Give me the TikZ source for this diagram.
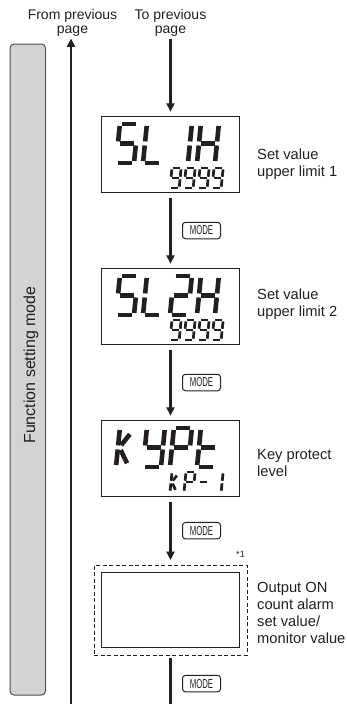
\documentclass[tikz,border=0pt]{standalone}
\usepackage{fontspec}
\setmainfont{Liberation Sans}
\usetikzlibrary{arrows.meta}

\definecolor{ink}{HTML}{231F20}
\definecolor{barfill}{HTML}{D3D3D3}
\definecolor{barline}{HTML}{505050}

\tikzstyle{flow}=[draw=ink, line width=2.2pt, shorten <=5.5pt, shorten >=4.5pt, -{Triangle[length=8.5pt,width=8pt]}]
\tikzstyle{lcdbox}=[draw=ink, line width=1pt, minimum width=138pt, minimum height=75.5pt, inner sep=0pt]
\tikzstyle{outbox}=[draw=ink, line width=0.8pt, dash pattern=on 4pt off 2.5pt, minimum width=153pt, minimum height=90pt, inner sep=0pt]
\tikzstyle{modekey}=[draw=ink, line width=1pt, rounded corners=3pt, minimum width=38pt, minimum height=16.5pt, inner sep=0pt, text=ink, font=\fontsize{13}{13}\selectfont]
\tikzstyle{caption}=[anchor=north west, align=left, inner sep=0pt, text=ink, font=\fontsize{14.7}{17}\selectfont]
\tikzstyle{pagetext}=[anchor=north, align=center, inner sep=0pt, text=ink, font=\fontsize{14}{14.5}\selectfont]
\tikzstyle{lcdbig}=[scale=40, lcdseg/.style={draw=ink, line width=4.6pt, shorten <=2pt, shorten >=2pt}]
\tikzstyle{lcdsmall}=[scale=20, lcdseg/.style={draw=ink, line width=2.7pt, shorten <=1.3pt, shorten >=1.3pt}]

\newcommand\lcdchar[4]{%
  \begin{scope}[shift={(#1,#2)}, xslant=0.1, #3]
    \coordinate (a1) at (0,-1);     \coordinate (a2) at (0.46,-1);
    \coordinate (b1) at (0.46,-1);  \coordinate (b2) at (0.46,-0.5);
    \coordinate (c1) at (0.46,-0.5);\coordinate (c2) at (0.46,0);
    \coordinate (d1) at (0,0);      \coordinate (d2) at (0.46,0);
    \coordinate (e1) at (0,0);      \coordinate (e2) at (0,-0.5);
    \coordinate (f1) at (0,-0.5);   \coordinate (f2) at (0,-1);
    \coordinate (g1) at (0,-0.5);   \coordinate (g2) at (0.46,-0.5);
    \coordinate (u1) at (0.05,-0.52);\coordinate (u2) at (0.3,-0.88);
    \coordinate (v1) at (0.05,-0.48);\coordinate (v2) at (0.3,-0.05);
    \foreach \s in {#4} {\draw[lcdseg] (\s1) -- (\s2);}
  \end{scope}}

\begin{document}
\begin{tikzpicture}[x=1pt,y=-1pt]
\useasboundingbox (0,0) rectangle (346,704);
\node[draw=barline, fill=barfill, line width=1pt, rounded corners=4pt, minimum width=35.5pt, minimum height=651pt, inner sep=0pt] (bar) at (27.75,369.5) {};
\node[rotate=90, inner sep=0pt, text=ink, font=\fontsize{16}{16}\selectfont] (bartext) at (31,365) {Function setting mode};

\node[pagetext] (fromtext) at (72.5,9) {From previous\\page};
\node[pagetext] (totext) at (170.5,9) {To previous\\page};
\coordinate (fromstart) at (71,704);
\draw[flow, shorten <=0pt, shorten >=1.5pt] (fromstart) -- (fromstart |- fromtext.south);

\node[lcdbox] (disp1) at (170.5,154.5) {};
\node[lcdbox] (disp2) at (170.5,306.5) {};
\node[lcdbox] (disp3) at (170.5,458.5) {};
\node[outbox] (out) at (170.5,610) {};
\node[lcdbox] (disp4) at (170.5,610) {};
\node[inner sep=0pt, text=ink, font=\fontsize{9}{9}\selectfont] (mark) at (240.5,554) {*1};
\coordinate (bottom) at (170.5,704);

\draw[flow, shorten <=2.5pt] (totext) -- (disp1);
\draw[flow] (disp1) -- node[modekey, right=11.5pt] (key1) {\scalebox{0.6}[1]{MODE}} (disp2);
\draw[flow] (disp2) -- node[modekey, right=11.5pt] (key2) {\scalebox{0.6}[1]{MODE}} (disp3);
\draw[flow] (disp3) -- node[modekey, right=11.5pt] (key3) {\scalebox{0.6}[1]{MODE}} (out);
\draw[draw=ink, line width=2.2pt, shorten <=3pt] (out) -- node[modekey, right=11.5pt, pos=0.58] (key4) {\scalebox{0.6}[1]{MODE}} (bottom);

\lcdchar{116}{163}{lcdbig}{a,f,g,c,d}
\lcdchar{143}{163}{lcdbig}{f,e,d}
\lcdchar{170}{163}{lcdbig}{b,c}
\lcdchar{197}{163}{lcdbig}{f,e,b,c,g}
\foreach \x in {170,184,198,212} {\lcdchar{\x}{188}{lcdsmall}{a,b,c,d,f,g}}

\lcdchar{116}{315}{lcdbig}{a,f,g,c,d}
\lcdchar{143}{315}{lcdbig}{f,e,d}
\lcdchar{170}{315}{lcdbig}{a,b,g,e,d}
\lcdchar{197}{315}{lcdbig}{f,e,b,c,g}
\foreach \x in {170,184,198,212} {\lcdchar{\x}{340}{lcdsmall}{a,b,c,d,f,g}}

\lcdchar{116}{467}{lcdbig}{f,e,u,v}
\lcdchar{143}{467}{lcdbig}{f,b,g,c,d}
\lcdchar{170}{467}{lcdbig}{a,b,f,g,e}
\lcdchar{197}{467}{lcdbig}{f,e,g,d}
\lcdchar{170}{492}{lcdsmall}{f,e,u,v}
\lcdchar{184}{492}{lcdsmall}{a,b,f,g,e}
\lcdchar{198}{492}{lcdsmall}{g}
\lcdchar{212}{492}{lcdsmall}{b,c}

\node[caption] (cap1) at (257,149) {Set value\\upper limit 1};
\node[caption] (cap2) at (257,289) {Set value\\upper limit 2};
\node[caption] (cap3) at (257,449) {Key protect\\level};
\node[caption] (cap4) at (257,582) {Output ON\\count alarm\\set value/\\monitor value};
\end{tikzpicture}
\end{document}
